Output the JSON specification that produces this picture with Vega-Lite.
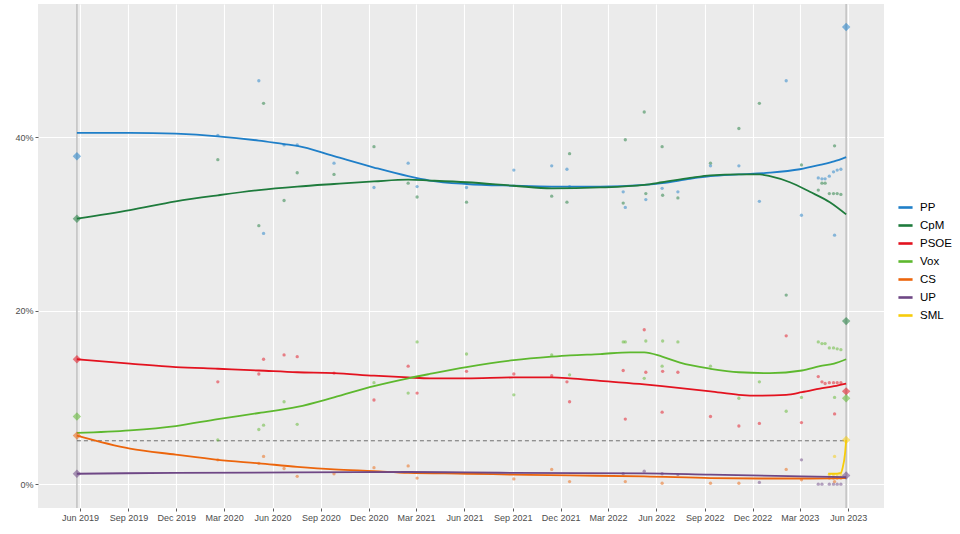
{
  "$schema": "https://vega.github.io/schema/vega-lite/v6.json",
  "width": 846,
  "height": 504,
  "autosize": "none",
  "padding": {"left": 38, "top": 4, "right": 76, "bottom": 26},
  "background": "white",
  "datasets": {
    "elections": [
      {"d": "2019-05-26"},
      {"d": "2023-05-28"}
    ],
    "threshold": [
      {"d": "2019-05-26", "d2": "2023-05-28", "v": 5}
    ],
    "polls": [
      {"d": "2020-02-18", "p": "PP", "v": 40.2}, {"d": "2020-02-18", "p": "CpM", "v": 37.4}, {"d": "2020-02-18", "p": "PSOE", "v": 11.8}, {"d": "2020-02-18", "p": "Vox", "v": 5.1}, {"d": "2020-02-18", "p": "CS", "v": 2.8},
      {"d": "2020-05-06", "p": "PP", "v": 46.5}, {"d": "2020-05-06", "p": "CpM", "v": 29.8}, {"d": "2020-05-06", "p": "PSOE", "v": 12.7}, {"d": "2020-05-06", "p": "Vox", "v": 6.3}, {"d": "2020-05-06", "p": "CS", "v": 2.4},
      {"d": "2020-05-15", "p": "CpM", "v": 43.9}, {"d": "2020-05-15", "p": "PP", "v": 28.9}, {"d": "2020-05-15", "p": "PSOE", "v": 14.4}, {"d": "2020-05-15", "p": "Vox", "v": 6.8}, {"d": "2020-05-15", "p": "CS", "v": 3.2},
      {"d": "2020-06-23", "p": "PP", "v": 39.1}, {"d": "2020-06-23", "p": "CpM", "v": 32.7}, {"d": "2020-06-23", "p": "PSOE", "v": 14.9}, {"d": "2020-06-23", "p": "Vox", "v": 9.5}, {"d": "2020-06-23", "p": "CS", "v": 1.8},
      {"d": "2020-07-18", "p": "PP", "v": 39.1}, {"d": "2020-07-18", "p": "CpM", "v": 35.9}, {"d": "2020-07-18", "p": "PSOE", "v": 14.7}, {"d": "2020-07-18", "p": "Vox", "v": 6.9}, {"d": "2020-07-18", "p": "CS", "v": 0.9},
      {"d": "2020-09-26", "p": "PP", "v": 37.0}, {"d": "2020-09-26", "p": "CpM", "v": 35.7}, {"d": "2020-09-26", "p": "PSOE", "v": 12.8}, {"d": "2020-09-26", "p": "CS", "v": 1.2},
      {"d": "2020-12-11", "p": "CpM", "v": 38.9}, {"d": "2020-12-11", "p": "PP", "v": 34.2}, {"d": "2020-12-11", "p": "PSOE", "v": 9.7}, {"d": "2020-12-11", "p": "Vox", "v": 11.7}, {"d": "2020-12-11", "p": "CS", "v": 1.9},
      {"d": "2021-02-14", "p": "PP", "v": 37.0}, {"d": "2021-02-14", "p": "CpM", "v": 34.7}, {"d": "2021-02-14", "p": "PSOE", "v": 13.6}, {"d": "2021-02-14", "p": "Vox", "v": 10.5}, {"d": "2021-02-14", "p": "CS", "v": 2.1},
      {"d": "2021-03-03", "p": "PP", "v": 34.3}, {"d": "2021-03-03", "p": "CpM", "v": 33.1}, {"d": "2021-03-03", "p": "PSOE", "v": 10.5}, {"d": "2021-03-03", "p": "Vox", "v": 16.4}, {"d": "2021-03-03", "p": "CS", "v": 0.7},
      {"d": "2021-06-05", "p": "PP", "v": 34.2}, {"d": "2021-06-05", "p": "CpM", "v": 32.5}, {"d": "2021-06-05", "p": "PSOE", "v": 13.0}, {"d": "2021-06-05", "p": "Vox", "v": 15.0},
      {"d": "2021-09-03", "p": "PP", "v": 36.2}, {"d": "2021-09-03", "p": "PSOE", "v": 12.7}, {"d": "2021-09-03", "p": "Vox", "v": 10.3}, {"d": "2021-09-03", "p": "CS", "v": 0.6},
      {"d": "2021-11-14", "p": "PP", "v": 36.7}, {"d": "2021-11-14", "p": "CpM", "v": 33.2}, {"d": "2021-11-14", "p": "PSOE", "v": 12.5}, {"d": "2021-11-14", "p": "Vox", "v": 14.9}, {"d": "2021-11-14", "p": "CS", "v": 1.7},
      {"d": "2021-12-13", "p": "PP", "v": 36.3}, {"d": "2021-12-13", "p": "CpM", "v": 32.5}, {"d": "2021-12-13", "p": "PSOE", "v": 11.8},
      {"d": "2021-12-18", "p": "CpM", "v": 38.1}, {"d": "2021-12-18", "p": "PP", "v": 34.3}, {"d": "2021-12-18", "p": "PSOE", "v": 9.5}, {"d": "2021-12-18", "p": "Vox", "v": 12.6}, {"d": "2021-12-18", "p": "CS", "v": 0.3},
      {"d": "2022-03-30", "p": "PP", "v": 33.7}, {"d": "2022-03-30", "p": "CpM", "v": 32.4}, {"d": "2022-03-30", "p": "PSOE", "v": 13.1}, {"d": "2022-03-30", "p": "Vox", "v": 16.4}, {"d": "2022-03-30", "p": "UP", "v": 1.2},
      {"d": "2022-04-03", "p": "CpM", "v": 39.7}, {"d": "2022-04-03", "p": "PP", "v": 31.9}, {"d": "2022-04-03", "p": "PSOE", "v": 7.5}, {"d": "2022-04-03", "p": "Vox", "v": 16.4}, {"d": "2022-04-03", "p": "CS", "v": 0.3},
      {"d": "2022-05-09", "p": "CpM", "v": 42.9}, {"d": "2022-05-09", "p": "PSOE", "v": 17.8}, {"d": "2022-05-09", "p": "Vox", "v": 12.2}, {"d": "2022-05-09", "p": "UP", "v": 1.5},
      {"d": "2022-05-12", "p": "CpM", "v": 33.5}, {"d": "2022-05-12", "p": "PP", "v": 32.8}, {"d": "2022-05-12", "p": "PSOE", "v": 12.9}, {"d": "2022-05-12", "p": "Vox", "v": 16.5},
      {"d": "2022-06-12", "p": "CpM", "v": 38.9}, {"d": "2022-06-12", "p": "PP", "v": 34.1}, {"d": "2022-06-12", "p": "PSOE", "v": 8.3}, {"d": "2022-06-12", "p": "Vox", "v": 13.6}, {"d": "2022-06-12", "p": "UP", "v": 1.2}, {"d": "2022-06-12", "p": "CS", "v": 0.1},
      {"d": "2022-06-13", "p": "CpM", "v": 33.3}, {"d": "2022-06-13", "p": "PSOE", "v": 13.0}, {"d": "2022-06-13", "p": "Vox", "v": 16.5},
      {"d": "2022-07-12", "p": "PP", "v": 33.7}, {"d": "2022-07-12", "p": "CpM", "v": 33.0}, {"d": "2022-07-12", "p": "PSOE", "v": 12.9}, {"d": "2022-07-12", "p": "Vox", "v": 16.4}, {"d": "2022-07-12", "p": "UP", "v": 1.1},
      {"d": "2022-09-12", "p": "CpM", "v": 37.0}, {"d": "2022-09-12", "p": "PP", "v": 36.7}, {"d": "2022-09-12", "p": "PSOE", "v": 7.8}, {"d": "2022-09-12", "p": "Vox", "v": 13.6}, {"d": "2022-09-12", "p": "CS", "v": 0.1},
      {"d": "2022-11-05", "p": "CpM", "v": 41.0}, {"d": "2022-11-05", "p": "PP", "v": 36.7}, {"d": "2022-11-05", "p": "PSOE", "v": 6.7}, {"d": "2022-11-05", "p": "Vox", "v": 9.9}, {"d": "2022-11-05", "p": "CS", "v": 0.1},
      {"d": "2022-12-14", "p": "CpM", "v": 43.9}, {"d": "2022-12-14", "p": "PP", "v": 32.6}, {"d": "2022-12-14", "p": "PSOE", "v": 7.0}, {"d": "2022-12-14", "p": "Vox", "v": 11.8}, {"d": "2022-12-14", "p": "UP", "v": 0.2},
      {"d": "2023-02-03", "p": "PP", "v": 46.5}, {"d": "2023-02-03", "p": "CpM", "v": 21.8}, {"d": "2023-02-03", "p": "PSOE", "v": 17.1}, {"d": "2023-02-03", "p": "Vox", "v": 8.4}, {"d": "2023-02-03", "p": "CS", "v": 1.7},
      {"d": "2023-03-04", "p": "CpM", "v": 36.8}, {"d": "2023-03-04", "p": "PP", "v": 31.0}, {"d": "2023-03-04", "p": "PSOE", "v": 7.1}, {"d": "2023-03-04", "p": "Vox", "v": 10.0}, {"d": "2023-03-04", "p": "UP", "v": 2.8}, {"d": "2023-03-04", "p": "CS", "v": 0.5},
      {"d": "2023-04-05", "p": "PP", "v": 35.3}, {"d": "2023-04-05", "p": "CpM", "v": 33.9}, {"d": "2023-04-05", "p": "PSOE", "v": 12.4}, {"d": "2023-04-05", "p": "Vox", "v": 16.4}, {"d": "2023-04-05", "p": "UP", "v": 0.0},
      {"d": "2023-04-12", "p": "PP", "v": 35.2}, {"d": "2023-04-12", "p": "CpM", "v": 34.7}, {"d": "2023-04-12", "p": "PSOE", "v": 11.8}, {"d": "2023-04-12", "p": "Vox", "v": 16.2}, {"d": "2023-04-12", "p": "UP", "v": 0.0},
      {"d": "2023-04-18", "p": "PP", "v": 35.2}, {"d": "2023-04-18", "p": "CpM", "v": 34.7}, {"d": "2023-04-18", "p": "PSOE", "v": 11.6}, {"d": "2023-04-18", "p": "Vox", "v": 16.2},
      {"d": "2023-04-26", "p": "PP", "v": 35.5}, {"d": "2023-04-26", "p": "CpM", "v": 33.5}, {"d": "2023-04-26", "p": "PSOE", "v": 11.7}, {"d": "2023-04-26", "p": "Vox", "v": 15.7}, {"d": "2023-04-26", "p": "UP", "v": 0.0}, {"d": "2023-04-26", "p": "SML", "v": 1.1}, {"d": "2023-04-26", "p": "CS", "v": 0.7},
      {"d": "2023-05-04", "p": "PP", "v": 36.0}, {"d": "2023-05-04", "p": "CpM", "v": 33.5}, {"d": "2023-05-04", "p": "PSOE", "v": 11.7}, {"d": "2023-05-04", "p": "Vox", "v": 15.7}, {"d": "2023-05-04", "p": "UP", "v": 0.0}, {"d": "2023-05-04", "p": "SML", "v": 1.1}, {"d": "2023-05-04", "p": "CS", "v": 0.7},
      {"d": "2023-05-06", "p": "CpM", "v": 39.0}, {"d": "2023-05-06", "p": "PP", "v": 28.7}, {"d": "2023-05-06", "p": "PSOE", "v": 8.1}, {"d": "2023-05-06", "p": "Vox", "v": 10.0}, {"d": "2023-05-06", "p": "SML", "v": 3.2}, {"d": "2023-05-06", "p": "CS", "v": 0.3},
      {"d": "2023-05-11", "p": "PP", "v": 36.2}, {"d": "2023-05-11", "p": "CpM", "v": 33.5}, {"d": "2023-05-11", "p": "PSOE", "v": 11.7}, {"d": "2023-05-11", "p": "Vox", "v": 15.6}, {"d": "2023-05-11", "p": "UP", "v": 0.0}, {"d": "2023-05-11", "p": "SML", "v": 1.1}, {"d": "2023-05-11", "p": "CS", "v": 0.7},
      {"d": "2023-05-18", "p": "PP", "v": 36.3}, {"d": "2023-05-18", "p": "CpM", "v": 33.4}, {"d": "2023-05-18", "p": "PSOE", "v": 11.7}, {"d": "2023-05-18", "p": "Vox", "v": 15.5}, {"d": "2023-05-18", "p": "UP", "v": 0.0}, {"d": "2023-05-18", "p": "SML", "v": 1.1}, {"d": "2023-05-18", "p": "CS", "v": 0.7}
    ],
    "trend": [
      {"d": "2019-05-26", "p": "PP", "v": 40.5}, {"d": "2019-09-04", "p": "PP", "v": 40.5}, {"d": "2019-11-30", "p": "PP", "v": 40.4}, {"d": "2020-02-18", "p": "PP", "v": 40.1}, {"d": "2020-05-06", "p": "PP", "v": 39.6}, {"d": "2020-06-23", "p": "PP", "v": 39.2}, {"d": "2020-07-18", "p": "PP", "v": 39.0}, {"d": "2020-09-26", "p": "PP", "v": 37.8}, {"d": "2020-12-11", "p": "PP", "v": 36.5}, {"d": "2021-02-14", "p": "PP", "v": 35.5}, {"d": "2021-03-27", "p": "PP", "v": 35.0}, {"d": "2021-06-05", "p": "PP", "v": 34.6}, {"d": "2021-09-03", "p": "PP", "v": 34.4}, {"d": "2021-11-14", "p": "PP", "v": 34.3}, {"d": "2022-02-14", "p": "PP", "v": 34.3}, {"d": "2022-05-09", "p": "PP", "v": 34.5}, {"d": "2022-06-12", "p": "PP", "v": 34.7}, {"d": "2022-08-04", "p": "PP", "v": 35.2}, {"d": "2022-09-12", "p": "PP", "v": 35.5}, {"d": "2022-11-05", "p": "PP", "v": 35.7}, {"d": "2023-01-03", "p": "PP", "v": 35.9}, {"d": "2023-03-01", "p": "PP", "v": 36.3}, {"d": "2023-04-08", "p": "PP", "v": 36.8}, {"d": "2023-05-05", "p": "PP", "v": 37.2}, {"d": "2023-05-28", "p": "PP", "v": 37.7},
      {"d": "2019-05-26", "p": "CpM", "v": 30.6}, {"d": "2019-09-04", "p": "CpM", "v": 31.6}, {"d": "2019-11-30", "p": "CpM", "v": 32.6}, {"d": "2020-02-18", "p": "CpM", "v": 33.3}, {"d": "2020-05-06", "p": "CpM", "v": 33.9}, {"d": "2020-07-18", "p": "CpM", "v": 34.3}, {"d": "2020-09-26", "p": "CpM", "v": 34.6}, {"d": "2020-12-11", "p": "CpM", "v": 34.9}, {"d": "2021-02-14", "p": "CpM", "v": 35.1}, {"d": "2021-03-27", "p": "CpM", "v": 35.0}, {"d": "2021-06-05", "p": "CpM", "v": 34.8}, {"d": "2021-09-03", "p": "CpM", "v": 34.4}, {"d": "2021-11-14", "p": "CpM", "v": 34.1}, {"d": "2022-02-14", "p": "CpM", "v": 34.2}, {"d": "2022-05-09", "p": "CpM", "v": 34.5}, {"d": "2022-06-12", "p": "CpM", "v": 34.8}, {"d": "2022-08-04", "p": "CpM", "v": 35.3}, {"d": "2022-09-12", "p": "CpM", "v": 35.6}, {"d": "2022-11-05", "p": "CpM", "v": 35.7}, {"d": "2022-12-15", "p": "CpM", "v": 35.7}, {"d": "2023-01-03", "p": "CpM", "v": 35.5}, {"d": "2023-02-10", "p": "CpM", "v": 34.8}, {"d": "2023-03-20", "p": "CpM", "v": 33.7}, {"d": "2023-04-27", "p": "CpM", "v": 32.5}, {"d": "2023-05-28", "p": "CpM", "v": 31.1},
      {"d": "2019-05-26", "p": "PSOE", "v": 14.4}, {"d": "2019-09-04", "p": "PSOE", "v": 13.9}, {"d": "2019-11-30", "p": "PSOE", "v": 13.5}, {"d": "2020-02-18", "p": "PSOE", "v": 13.3}, {"d": "2020-05-06", "p": "PSOE", "v": 13.1}, {"d": "2020-07-18", "p": "PSOE", "v": 12.9}, {"d": "2020-09-26", "p": "PSOE", "v": 12.8}, {"d": "2020-12-11", "p": "PSOE", "v": 12.5}, {"d": "2021-02-14", "p": "PSOE", "v": 12.3}, {"d": "2021-03-27", "p": "PSOE", "v": 12.2}, {"d": "2021-06-05", "p": "PSOE", "v": 12.2}, {"d": "2021-09-03", "p": "PSOE", "v": 12.3}, {"d": "2021-11-14", "p": "PSOE", "v": 12.3}, {"d": "2021-12-19", "p": "PSOE", "v": 12.2}, {"d": "2022-02-14", "p": "PSOE", "v": 11.9}, {"d": "2022-05-09", "p": "PSOE", "v": 11.5}, {"d": "2022-06-12", "p": "PSOE", "v": 11.3}, {"d": "2022-09-12", "p": "PSOE", "v": 10.7}, {"d": "2022-11-05", "p": "PSOE", "v": 10.3}, {"d": "2022-12-15", "p": "PSOE", "v": 10.2}, {"d": "2023-02-03", "p": "PSOE", "v": 10.3}, {"d": "2023-03-05", "p": "PSOE", "v": 10.6}, {"d": "2023-04-08", "p": "PSOE", "v": 11.0}, {"d": "2023-05-05", "p": "PSOE", "v": 11.3}, {"d": "2023-05-28", "p": "PSOE", "v": 11.6},
      {"d": "2019-05-26", "p": "Vox", "v": 5.9}, {"d": "2019-09-04", "p": "Vox", "v": 6.2}, {"d": "2019-11-30", "p": "Vox", "v": 6.7}, {"d": "2020-02-18", "p": "Vox", "v": 7.5}, {"d": "2020-05-06", "p": "Vox", "v": 8.2}, {"d": "2020-07-18", "p": "Vox", "v": 8.9}, {"d": "2020-09-26", "p": "Vox", "v": 10.0}, {"d": "2020-12-11", "p": "Vox", "v": 11.3}, {"d": "2021-02-14", "p": "Vox", "v": 12.2}, {"d": "2021-03-27", "p": "Vox", "v": 12.7}, {"d": "2021-06-05", "p": "Vox", "v": 13.5}, {"d": "2021-09-03", "p": "Vox", "v": 14.3}, {"d": "2021-11-14", "p": "Vox", "v": 14.7}, {"d": "2021-12-19", "p": "Vox", "v": 14.85}, {"d": "2022-02-14", "p": "Vox", "v": 15.0}, {"d": "2022-04-12", "p": "Vox", "v": 15.2}, {"d": "2022-05-09", "p": "Vox", "v": 15.2}, {"d": "2022-06-12", "p": "Vox", "v": 14.7}, {"d": "2022-07-16", "p": "Vox", "v": 14.0}, {"d": "2022-09-12", "p": "Vox", "v": 13.3}, {"d": "2022-11-05", "p": "Vox", "v": 12.9}, {"d": "2023-01-03", "p": "Vox", "v": 12.8}, {"d": "2023-03-05", "p": "Vox", "v": 13.1}, {"d": "2023-04-08", "p": "Vox", "v": 13.6}, {"d": "2023-05-05", "p": "Vox", "v": 13.9}, {"d": "2023-05-28", "p": "Vox", "v": 14.4},
      {"d": "2019-05-26", "p": "CS", "v": 5.6}, {"d": "2019-09-04", "p": "CS", "v": 4.1}, {"d": "2019-11-30", "p": "CS", "v": 3.4}, {"d": "2020-02-18", "p": "CS", "v": 2.8}, {"d": "2020-05-06", "p": "CS", "v": 2.4}, {"d": "2020-07-18", "p": "CS", "v": 2.0}, {"d": "2020-09-26", "p": "CS", "v": 1.7}, {"d": "2020-12-11", "p": "CS", "v": 1.5}, {"d": "2021-02-14", "p": "CS", "v": 1.3}, {"d": "2021-06-05", "p": "CS", "v": 1.2}, {"d": "2021-09-03", "p": "CS", "v": 1.1}, {"d": "2021-12-19", "p": "CS", "v": 1.0}, {"d": "2022-05-09", "p": "CS", "v": 0.9}, {"d": "2022-09-12", "p": "CS", "v": 0.7}, {"d": "2022-12-15", "p": "CS", "v": 0.65}, {"d": "2023-03-05", "p": "CS", "v": 0.65}, {"d": "2023-05-28", "p": "CS", "v": 0.7},
      {"d": "2019-05-26", "p": "UP", "v": 1.2}, {"d": "2019-11-30", "p": "UP", "v": 1.3}, {"d": "2020-07-18", "p": "UP", "v": 1.35}, {"d": "2021-02-14", "p": "UP", "v": 1.4}, {"d": "2021-06-05", "p": "UP", "v": 1.35}, {"d": "2021-09-03", "p": "UP", "v": 1.3}, {"d": "2022-05-09", "p": "UP", "v": 1.25}, {"d": "2022-09-12", "p": "UP", "v": 1.1}, {"d": "2023-03-05", "p": "UP", "v": 0.9}, {"d": "2023-05-28", "p": "UP", "v": 0.8},
      {"d": "2023-04-24", "p": "SML", "v": 1.2}, {"d": "2023-05-04", "p": "SML", "v": 1.2}, {"d": "2023-05-18", "p": "SML", "v": 1.3}, {"d": "2023-05-21", "p": "SML", "v": 1.8}, {"d": "2023-05-26", "p": "SML", "v": 3.6}, {"d": "2023-05-28", "p": "SML", "v": 5.1}
    ],
    "results": [
      {"d": "2019-05-26", "p": "PP", "v": 37.8}, {"d": "2019-05-26", "p": "CpM", "v": 30.6}, {"d": "2019-05-26", "p": "PSOE", "v": 14.4}, {"d": "2019-05-26", "p": "Vox", "v": 7.8}, {"d": "2019-05-26", "p": "CS", "v": 5.6}, {"d": "2019-05-26", "p": "UP", "v": 1.2},
      {"d": "2023-05-28", "p": "PP", "v": 52.7}, {"d": "2023-05-28", "p": "CpM", "v": 18.8}, {"d": "2023-05-28", "p": "PSOE", "v": 10.7}, {"d": "2023-05-28", "p": "Vox", "v": 9.9}, {"d": "2023-05-28", "p": "SML", "v": 5.1}, {"d": "2023-05-28", "p": "UP", "v": 1.0}
    ]
  },
  "encoding": {
    "x": {
      "field": "d",
      "type": "temporal",
      "title": null,
      "scale": {
        "domain": [{"year": 2019, "month": 3, "date": 13}, {"year": 2023, "month": 8, "date": 8}],
        "nice": false
      },
      "axis": {
        "values": [
          {"year": 2019, "month": 6, "date": 1}, {"year": 2019, "month": 9, "date": 1}, {"year": 2019, "month": 12, "date": 1},
          {"year": 2020, "month": 3, "date": 1}, {"year": 2020, "month": 6, "date": 1}, {"year": 2020, "month": 9, "date": 1}, {"year": 2020, "month": 12, "date": 1},
          {"year": 2021, "month": 3, "date": 1}, {"year": 2021, "month": 6, "date": 1}, {"year": 2021, "month": 9, "date": 1}, {"year": 2021, "month": 12, "date": 1},
          {"year": 2022, "month": 3, "date": 1}, {"year": 2022, "month": 6, "date": 1}, {"year": 2022, "month": 9, "date": 1}, {"year": 2022, "month": 12, "date": 1},
          {"year": 2023, "month": 3, "date": 1}, {"year": 2023, "month": 6, "date": 1}
        ],
        "format": "%b %Y",
        "labelFlush": false,
        "labelOverlap": false
      }
    },
    "y": {
      "field": "v",
      "type": "quantitative",
      "title": null,
      "scale": {"domain": [-2.75, 55.35], "nice": false, "zero": false},
      "axis": {"values": [0, 20, 40], "labelExpr": "datum.value + '%'"}
    }
  },
  "layer": [
    {
      "data": {"name": "elections"},
      "mark": {"type": "rule", "color": "#c4c4c4", "strokeWidth": 1.6},
      "encoding": {"y": null}
    },
    {
      "data": {"name": "threshold"},
      "mark": {"type": "rule", "color": "#3a3a3a", "strokeWidth": 0.7, "strokeDash": [4, 3]},
      "encoding": {"x2": {"field": "d2"}}
    },
    {
      "data": {"name": "polls"},
      "mark": {"type": "circle", "size": 11, "opacity": 0.5},
      "encoding": {
        "color": {"field": "p", "type": "nominal", "legend": null,
          "scale": {"domain": ["PP", "CpM", "PSOE", "Vox", "CS", "UP", "SML"], "range": ["#1f7fc8", "#1e7b3c", "#e3121f", "#5db82e", "#ec650c", "#6e4785", "#f7cc0a"]}}
      }
    },
    {
      "data": {"name": "trend"},
      "mark": {"type": "line", "strokeWidth": 1.8, "interpolate": "monotone"},
      "encoding": {
        "color": {"field": "p", "type": "nominal",
          "scale": {"domain": ["PP", "CpM", "PSOE", "Vox", "CS", "UP", "SML"], "range": ["#1f7fc8", "#1e7b3c", "#e3121f", "#5db82e", "#ec650c", "#6e4785", "#f7cc0a"]},
          "legend": {
            "title": null,
            "orient": "none",
            "legendX": 859,
            "legendY": 195,
            "symbolType": "stroke",
            "symbolSize": 200,
            "symbolStrokeWidth": 2.6,
            "labelFontSize": 11.5,
            "labelColor": "#000000",
            "labelOffset": 6,
            "rowPadding": 4
          }
        }
      }
    },
    {
      "data": {"name": "results"},
      "mark": {"type": "point", "shape": "diamond", "filled": true, "size": 70, "opacity": 0.55},
      "encoding": {
        "color": {"field": "p", "type": "nominal", "legend": null,
          "scale": {"domain": ["PP", "CpM", "PSOE", "Vox", "CS", "UP", "SML"], "range": ["#1f7fc8", "#1e7b3c", "#e3121f", "#5db82e", "#ec650c", "#6e4785", "#f7cc0a"]}}
      }
    }
  ],
  "resolve": {"legend": {"color": "independent"}},
  "config": {
    "font": "Liberation Sans",
    "view": {"fill": "#ebebeb", "stroke": null},
    "axis": {
      "domain": false,
      "grid": true,
      "gridColor": "#ffffff",
      "gridWidth": 1.1,
      "tickColor": "#333333",
      "tickSize": 3,
      "tickWidth": 0.8,
      "labelColor": "#4d4d4d",
      "labelFontSize": 9,
      "labelPadding": 2
    }
  }
}
